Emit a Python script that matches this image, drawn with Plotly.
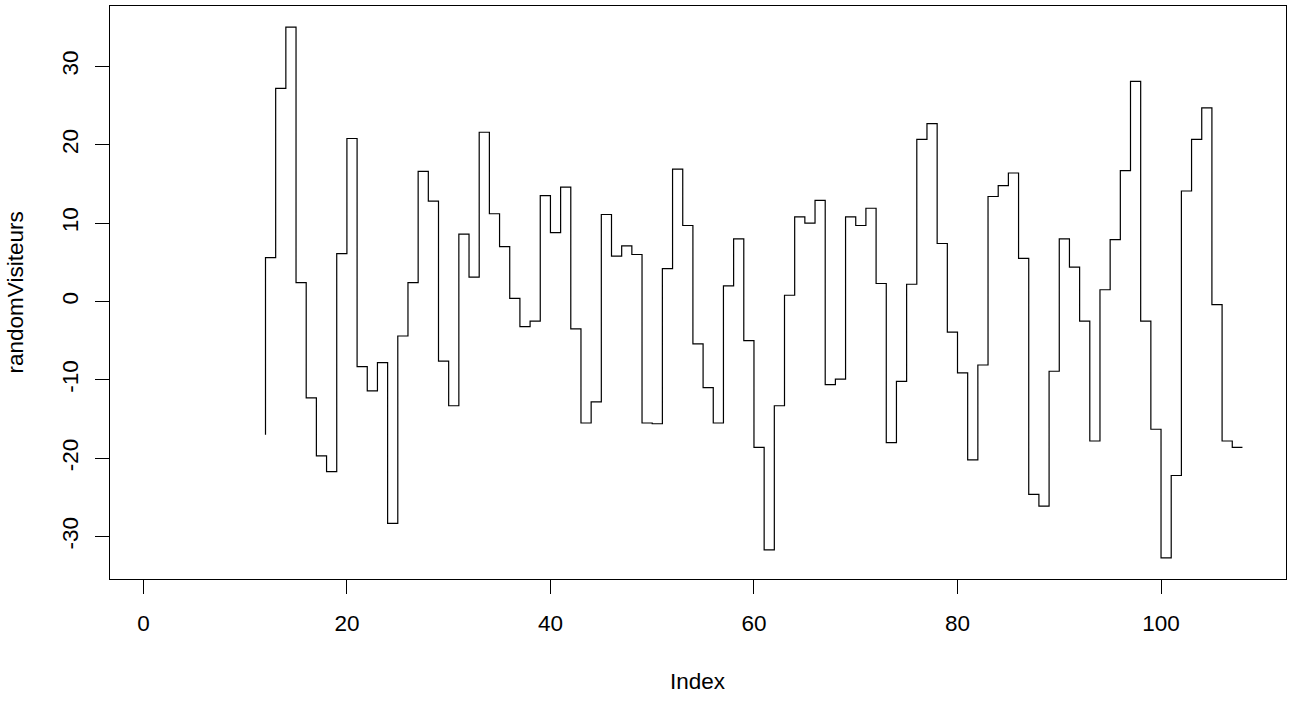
import numpy as np
import plotly.graph_objects as go

start_index = 12
random_visiteurs = [
    -17.0, 5.6, 27.2, 35.0, 2.4, -12.3, -19.7, -21.7, 6.1, 20.8,
    -8.3, -11.4, -7.8, -28.3, -4.4, 2.4, 16.6, 12.8, -7.6, -13.3,
    8.6, 3.1, 21.6, 11.2, 7.0, 0.4, -3.2, -2.5, 13.5, 8.8,
    14.6, -3.5, -15.5, -12.8, 11.1, 5.8, 7.1, 6.0, -15.5, -15.6,
    4.2, 16.9, 9.7, -5.4, -11.0, -15.5, 2.0, 8.0, -5.0, -18.6,
    -31.7, -13.3, 0.8, 10.8, 10.0, 12.9, -10.6, -9.9, 10.8, 9.7,
    11.9, 2.3, -18.0, -10.2, 2.2, 20.7, 22.7, 7.4, -3.9, -9.1,
    -20.2, -8.1, 13.4, 14.8, 16.4, 5.5, -24.6, -26.1, -8.9, 8.0,
    4.4, -2.5, -17.8, 1.5, 7.9, 16.7, 28.1, -2.5, -16.3, -32.7,
    -22.2, 14.1, 20.7, 24.7, -0.4, -17.8, -18.6,
]
x_ticks = [0, 20, 40, 60, 80, 100]
y_ticks = [-30, -20, -10, 0, 10, 20, 30]

values = [np.nan] * (start_index - 1) + random_visiteurs
index = list(range(1, len(values) + 1))

fig = go.Figure()
fig.add_trace(go.Scatter(
    x=index, y=values, mode="lines",
    line=dict(color="black", width=1.2, shape="vh"),
    connectgaps=False, showlegend=False, hoverinfo="x+y",
))

n = len(values)
xr = [1 - 0.04 * (n - 1), n + 0.04 * (n - 1)]
vals = np.array(random_visiteurs)
span = vals.max() - vals.min()
yr = [vals.min() - 0.04 * span, vals.max() + 0.04 * span]

font = dict(family="Liberation Sans, Arial, sans-serif", size=22.5, color="black")

fig.update_layout(
    width=1298, height=701,
    margin=dict(l=110, r=12, t=6, b=122),
    paper_bgcolor="white", plot_bgcolor="white",
    font=font,
    xaxis=dict(
        range=xr, tickvals=x_ticks, ticktext=[str(v) for v in x_ticks],
        showgrid=False, zeroline=False, showline=True, mirror=True,
        linecolor="black", linewidth=1.2, ticks="outside", ticklen=14,
        tickcolor="black", tickwidth=1.2, ticklabelstandoff=10, tickfont=font,
    ),
    yaxis=dict(
        range=yr, tickvals=y_ticks, ticktext=[str(v) for v in y_ticks],
        showgrid=False, zeroline=False, showline=True, mirror=True,
        linecolor="black", linewidth=1.2, ticks="outside", ticklen=14,
        tickcolor="black", tickwidth=1.2, tickangle=-90, ticklabelstandoff=8,
        tickfont=font,
    ),
    annotations=[
        dict(text="Index", xref="paper", yref="paper", x=0.5, y=0,
             xanchor="center", yanchor="middle", yshift=-102,
             showarrow=False, font=font),
        dict(text="randomVisiteurs", xref="paper", yref="paper", x=0, y=0.5,
             xanchor="center", yanchor="middle", xshift=-95, textangle=-90,
             showarrow=False, font=font),
    ],
)

fig.write_html(
    "out.html",
    config={"displayModeBar": False},
    post_script="document.body.style.margin='0';document.body.style.overflow='hidden';",
)
